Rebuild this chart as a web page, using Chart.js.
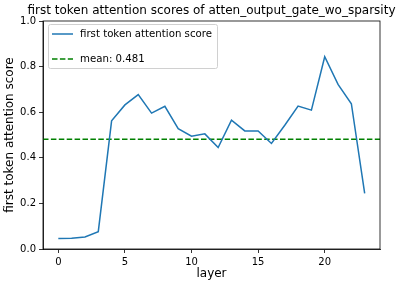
<!DOCTYPE html>
<html>
<head>
<meta charset="utf-8">
<script src="https://cdn.jsdelivr.net/npm/chart.js@4"></script>
<style>
  html, body { margin: 0; padding: 0; background: #fff; }
  #wrap { width: 400px; height: 286px; }
</style>
</head>
<body>
<div id="wrap"><canvas id="chart" width="400" height="286"></canvas></div>
<script>
const layers = [0,1,2,3,4,5,6,7,8,9,10,11,12,13,14,15,16,17,18,19,20,21,22,23];
const scores = [0.046,0.047,0.053,0.076,0.562,0.632,0.677,0.596,0.626,0.528,0.495,0.505,0.445,0.565,0.518,0.518,0.463,0.543,0.627,0.609,0.843,0.722,0.637,0.244];
const meanValue = 0.481;
const xTicks = [0, 5, 10, 15, 20];
const yTicks = [0.0, 0.2, 0.4, 0.6, 0.8, 1.0];
const xMin = -1.15, xMax = 24.15;

const FONT = '"DejaVu Sans", sans-serif';

const frame = {
    id: 'frame',
    afterDraw(chart) {
        const { ctx, chartArea: a } = chart;
        ctx.save();
        // box around the axes
        ctx.strokeStyle = '#000';
        ctx.lineWidth = 0.8;
        ctx.strokeRect(a.left, a.top, a.right - a.left, a.bottom - a.top);

        // title
        ctx.fillStyle = '#000';
        ctx.font = '12px ' + FONT;
        ctx.textAlign = 'center';
        ctx.textBaseline = 'middle';
        ctx.fillText('first token attention scores of atten_output_gate_wo_sparsity', (a.left + a.right) / 2, 11);

        // legend, top left inside the axes
        const lx = a.left + 5, ly = a.top + 3, lw = 169, lh = 44;
        ctx.fillStyle = 'rgba(255,255,255,0.8)';
        ctx.strokeStyle = '#d0d0d0';
        ctx.lineWidth = 1;
        ctx.beginPath();
        ctx.roundRect(lx + 0.5, ly + 0.5, lw, lh, 2);
        ctx.fill();
        ctx.stroke();
        ctx.font = '10.2px ' + FONT;
        ctx.textAlign = 'left';
        chart.data.datasets.forEach((ds, i) => {
            const y = ly + 10 + i * 25;
            ctx.strokeStyle = ds.borderColor;
            ctx.lineWidth = 1.5;
            ctx.setLineDash(ds.borderDash || []);
            ctx.beginPath();
            ctx.moveTo(lx + 4, y);
            ctx.lineTo(lx + 25, y);
            ctx.stroke();
            ctx.setLineDash([]);
            ctx.fillStyle = '#000';
            ctx.fillText(ds.label, lx + 32, y);
        });
        ctx.restore();
    }
};

new Chart(document.getElementById('chart'), {
    type: 'line',
    data: {
        datasets: [{
            label: 'first token attention score',
            data: layers.map((l, i) => ({ x: l, y: scores[i] })),
            borderColor: '#1f77b4',
            borderWidth: 1.5,
            pointRadius: 0,
            tension: 0,
            fill: false
        }, {
            label: 'mean: ' + meanValue.toFixed(3),
            data: [{ x: xMin, y: meanValue }, { x: xMax, y: meanValue }],
            borderColor: '#008000',
            borderWidth: 1.5,
            borderDash: [5.5, 2.4],
            pointRadius: 0,
            fill: false
        }]
    },
    options: {
        responsive: false,
        animation: false,
        layout: { padding: { top: 21, right: 20, left: 0, bottom: 0 } },
        plugins: { legend: { display: false }, tooltip: { enabled: false } },
        scales: {
            x: {
                type: 'linear',
                min: xMin,
                max: xMax,
                afterBuildTicks(s) { s.ticks = xTicks.map(v => ({ value: v })); },
                afterFit(s) { s.height = 37; },
                grid: { drawOnChartArea: false, tickLength: 4, color: '#000', tickWidth: 0.8 },
                border: { display: true, color: '#000', width: 0.8 },
                ticks: { color: '#000', font: { family: FONT, size: 10 }, padding: 3, maxRotation: 0 },
                title: { display: true, text: 'layer', color: '#000', font: { family: FONT, size: 12 }, padding: { top: 0, bottom: 5 } }
            },
            y: {
                min: 0,
                max: 1,
                afterBuildTicks(s) { s.ticks = yTicks.map(v => ({ value: v })); },
                afterFit(s) { s.width = 43; },
                grid: { drawOnChartArea: false, tickLength: 4, color: '#000', tickWidth: 0.8 },
                border: { display: true, color: '#000', width: 0.8 },
                ticks: { color: '#000', font: { family: FONT, size: 10 }, padding: 3, callback: v => v.toFixed(1) },
                title: { display: true, text: 'first token attention score', color: '#000', font: { family: FONT, size: 12 }, padding: { top: 3, bottom: 2 } }
            }
        }
    },
    plugins: [frame]
});
</script>
</body>
</html>
